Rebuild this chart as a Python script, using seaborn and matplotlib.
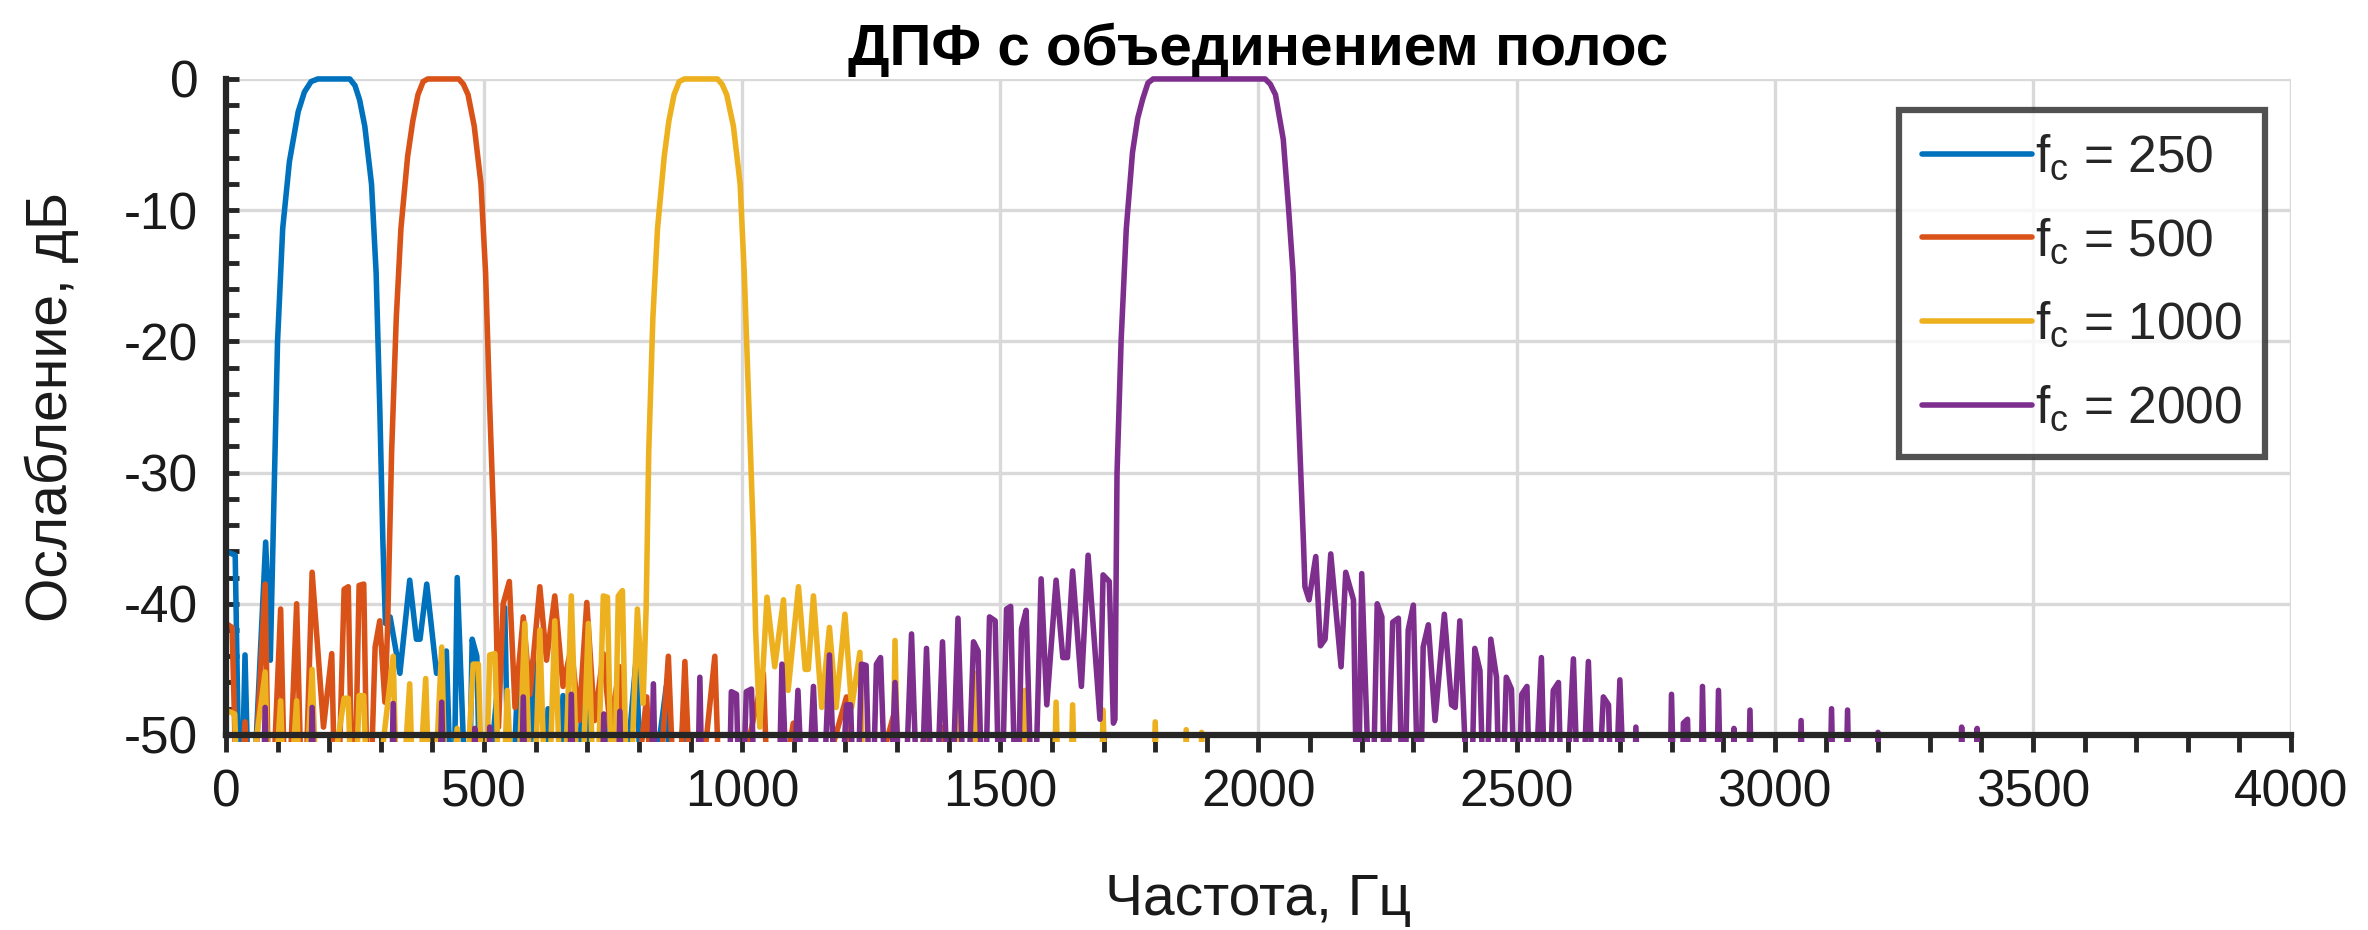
import numpy as np
import pandas as pd
import matplotlib
matplotlib.use("Agg")
import matplotlib.pyplot as plt
from matplotlib.patches import Rectangle
import seaborn as sns

# Точки (частота, Гц; ослабление, дБ). -60 = ниже оси (обрезается)
pts_250 = [(0, -36.0), (18, -36.3), (28, -60), (37, -43.9), (47, -60), (77, -35.3), (86, -44.3),
           (100, -20), (110, -11.4), (123, -6.3), (140, -2.5), (152, -1.0), (165, -0.2), (178, 0),
           (240, 0), (250, -0.5), (259, -1.6), (269, -3.6), (282, -8), (291, -14.8), (298, -25),
           (304, -35.2), (309, -41.5), (318, -41), (337, -45.3), (356, -38.2), (369, -42.7),
           (376, -42.7), (389, -38.5), (408, -45.3), (427, -43.6), (440, -60), (448, -38), (469, -60),
           (477, -42.7), (486, -44), (495, -60), (540, -40.3), (550, -60), (565, -46), (580, -60),
           (595, -44.3), (610, -60), (624, -48), (638, -60), (653, -47), (668, -60), (700, -42.8),
           (712, -60), (745, -48), (760, -60), (795, -44), (808, -60), (853, -46.3), (866, -60),
           (889, -47), (900, -60), (4000, -60)]

pts_500 = [(0, -41.5), (12, -41.8), (24, -60), (37, -49), (47, -60), (76, -38.5), (85, -60),
           (106, -40.4), (117, -60), (137, -40), (150, -60), (167, -37.6), (189, -49.4), (205, -43.8),
           (214, -60), (229, -38.9), (237, -38.7), (247, -60), (258, -38.6), (267, -38.5), (276, -60),
           (289, -43.3), (298, -41.3), (308, -47.5), (313, -42), (321, -28.4), (330, -18.2),
           (339, -11.4), (352, -5.9), (362, -3.2), (372, -1.2), (382, -0.2), (391, 0), (451, 0),
           (460, -0.4), (469, -1.2), (481, -3.6), (494, -8), (503, -14.8), (511, -25), (520, -35.2),
           (524, -42), (528, -49.4), (537, -40), (549, -38.3), (560, -47.9), (576, -41), (589, -46.9),
           (608, -38.7), (621, -44.3), (637, -39.4), (653, -46.3), (669, -43.3), (684, -48.9),
           (699, -39.9), (714, -48.9), (731, -43.8), (744, -49.4), (763, -44.8), (779, -60),
           (815, -47.1), (830, -60), (857, -44), (873, -60), (889, -44.4), (905, -60), (947, -44),
           (960, -60), (1041, -45.3), (1054, -60), (1099, -49.1), (1110, -60), (1202, -47.1),
           (1214, -60), (1296, -48.1), (1308, -60), (1357, -49), (1368, -60), (1390, -49.4),
           (1400, -60), (4000, -60)]

pts_1000 = [(0, -48.1), (17, -48.4), (27, -60), (76, -45.2), (86, -60), (106, -47.4), (116, -60),
            (137, -47.4), (147, -60), (167, -45), (180, -60), (229, -47.2), (237, -47.2), (247, -60),
            (258, -47), (267, -47), (277, -60), (324, -44), (334, -60), (356, -46.1), (366, -60),
            (387, -45.7), (398, -60), (418, -43.3), (428, -60), (448, -49.5), (458, -60),
            (479, -44.6), (489, -44.6), (500, -60), (511, -43.9), (521, -43.8), (533, -60),
            (545, -46.6), (560, -60), (579, -41.5), (594, -60), (608, -42), (622, -60), (637, -41.3),
            (652, -60), (669, -39.4), (685, -60), (702, -41.5), (716, -60), (731, -39.4),
            (739, -39.5), (750, -60), (760, -39.4), (768, -39), (779, -60), (797, -40.4),
            (808, -47.6), (814, -40.3), (819, -28.4), (827, -18.2), (836, -11.4), (849, -5.9),
            (858, -3.2), (868, -1.2), (878, -0.2), (888, 0), (952, 0), (961, -0.4), (970, -1.2),
            (983, -3.6), (996, -8), (1004, -14.8), (1013, -25), (1022, -35.2), (1026, -42),
            (1034, -49.4), (1048, -39.5), (1063, -44.8), (1080, -39.7), (1089, -46.6), (1109, -38.7),
            (1122, -45), (1128, -45), (1138, -39.4), (1154, -47.9), (1169, -41.8), (1182, -47.9),
            (1199, -40.8), (1212, -47.9), (1228, -43.7), (1238, -60), (1290, -60), (1296, -42.8),
            (1305, -60), (1416, -60), (1422, -48.1), (1432, -60), (1447, -60), (1454, -45.3),
            (1462, -60), (1541, -60), (1548, -46.6), (1556, -60), (1601, -60), (1608, -47.5),
            (1616, -60), (1633, -60), (1640, -47.7), (1648, -60), (1693, -60), (1699, -48.1),
            (1707, -60), (1794, -60), (1800, -49), (1806, -60), (1855, -60), (1860, -49.6),
            (1866, -60), (1885, -60), (1890, -49.8), (1896, -60), (4000, -60)]

pts_2000 = [(0, -60), (70, -60), (76, -47.9), (82, -60), (160, -60), (167, -47.9), (174, -60),
            (318, -60), (324, -47.6), (330, -60), (411, -60), (418, -47.5), (425, -60), (477, -60),
            (482, -49.5), (487, -60), (506, -60), (511, -49.4), (516, -60), (570, -60), (576, -47.1),
            (582, -60), (663, -60), (669, -46.9), (676, -60), (726, -60), (732, -48.4), (738, -60),
            (757, -60), (763, -48.2), (769, -60), (821, -60), (828, -46.1), (835, -60), (911, -60),
            (918, -45.6), (925, -60), (972, -60), (979, -46.7), (989, -46.9), (997, -60),
            (1008, -46.7), (1018, -46.5), (1027, -60), (1068, -60), (1077, -44.6), (1092, -60),
            (1108, -46.6), (1122, -60), (1138, -46.3), (1152, -60), (1169, -43.9), (1185, -60),
            (1202, -47.7), (1210, -47.7), (1220, -60), (1231, -44.6), (1240, -44.7), (1250, -60),
            (1260, -44.6), (1268, -44.1), (1282, -60), (1296, -46), (1311, -60), (1328, -42.3),
            (1343, -60), (1357, -43.4), (1372, -60), (1388, -42.9), (1403, -60), (1418, -41.1),
            (1433, -60), (1448, -42.9), (1457, -43.6), (1468, -60), (1479, -41), (1490, -41.3),
            (1500, -60), (1512, -40.4), (1520, -40.2), (1532, -60), (1541, -41.9), (1550, -40.5),
            (1564, -60), (1579, -38.1), (1590, -47.7), (1608, -38.2), (1621, -44.1), (1630, -44.1),
            (1640, -37.5), (1657, -46.3), (1670, -36.3), (1693, -48.8), (1699, -37.8), (1711, -38.3),
            (1719, -49.1), (1722, -48.8), (1726, -30.1), (1734, -19.9), (1744, -11.4), (1756, -5.6),
            (1766, -3.0), (1776, -1.5), (1786, -0.3), (1796, 0), (2013, 0), (2023, -0.4),
            (2033, -1.2), (2048, -4.6), (2058, -9.7), (2067, -14.8), (2077, -25), (2087, -35.2),
            (2090, -38.7), (2098, -39.7), (2111, -36.4), (2120, -43.2), (2129, -42.7), (2140, -36.2),
            (2160, -44.8), (2169, -37.6), (2184, -39.7), (2192, -60), (2200, -37.7), (2219, -60),
            (2230, -40), (2239, -41), (2245, -60), (2260, -41.4), (2271, -41.1), (2281, -60),
            (2290, -42), (2300, -40.1), (2312, -60), (2319, -43.3), (2329, -41.6), (2342, -48.9),
            (2360, -40.8), (2374, -47.7), (2381, -47.9), (2390, -41.3), (2410, -60), (2419, -43.4),
            (2429, -45.1), (2439, -60), (2450, -42.7), (2461, -45.6), (2469, -60), (2480, -45.6),
            (2490, -46.5), (2500, -60), (2510, -46.9), (2520, -46.3), (2529, -60), (2548, -44.1),
            (2558, -60), (2571, -46.6), (2581, -46), (2590, -60), (2610, -44.2), (2623, -60),
            (2639, -44.4), (2652, -60), (2668, -47.1), (2678, -47.7), (2687, -60), (2700, -45.8),
            (2713, -60), (2726, -60), (2731, -49.4), (2740, -60), (2795, -60), (2800, -46.9),
            (2808, -60), (2818, -60), (2823, -49.1), (2831, -48.8), (2838, -60), (2855, -60),
            (2860, -46.3), (2867, -60), (2885, -60), (2891, -46.6), (2898, -60), (2916, -60),
            (2921, -49.5), (2926, -60), (2946, -60), (2952, -48.1), (2958, -60), (3045, -60),
            (3051, -48.9), (3057, -60), (3104, -60), (3110, -48), (3116, -60), (3135, -60),
            (3141, -48.1), (3147, -60), (3196, -60), (3200, -49.8), (3205, -60), (3357, -60),
            (3362, -49.4), (3367, -60), (3387, -60), (3392, -49.5), (3397, -60), (4000, -60)]

labels = [r"$\mathregular{f_c}$ = 250", r"$\mathregular{f_c}$ = 500",
          r"$\mathregular{f_c}$ = 1000", r"$\mathregular{f_c}$ = 2000"]
colors = ["#0072BD", "#D95319", "#EDB120", "#7E2F8E"]
series = [pts_250, pts_500, pts_1000, pts_2000]

x_ticks = np.arange(0, 4001, 500)
y_ticks = np.arange(-50, 1, 10)

frames = []
for lab, pts in zip(labels, series):
    f, d = zip(*pts)
    frames.append(pd.DataFrame({"freq": f, "db": d, "fc": lab}))
df = pd.concat(frames, ignore_index=True)

sns.set_style("white")
plt.rcParams["font.family"] = ["Liberation Sans", "DejaVu Sans"]
plt.rcParams["mathtext.fontset"] = "custom"
plt.rcParams["mathtext.rm"] = "Liberation Sans"
plt.rcParams["axes.unicode_minus"] = False

fig = plt.figure(figsize=(23.68, 9.30), dpi=100)
ax = fig.add_axes([0.0954, 0.2097, 0.8721, 0.7054])

sns.lineplot(data=df, x="freq", y="db", hue="fc", hue_order=labels, palette=colors,
             sort=False, estimator=None, ax=ax)

# линия на 0 дБ не должна обрезаться наполовину
clip = Rectangle((0, -0.01), 1, 1.03, transform=ax.transAxes, fill=False, visible=False)
ax.add_patch(clip)
for line in ax.lines:
    line.set_linewidth(4.0)
    line.set_solid_joinstyle("round")
    line.set_clip_path(clip)

ax.set_xlim(0, 4000)
ax.set_ylim(-50, 0)
ax.set_xticks(x_ticks)
ax.set_yticks(y_ticks)
ax.set_xticks(np.arange(0, 4001, 100), minor=True)
ax.set_yticks(np.arange(-50, 1, 2), minor=True)
ax.grid(True, which="major", color="#d9d9d9", linewidth=2.4)
ax.set_axisbelow(True)

for side in ["top", "right"]:
    ax.spines[side].set_visible(False)
for side in ["left", "bottom"]:
    ax.spines[side].set_color("#262626")
    ax.spines[side].set_linewidth(4.5)

ax.tick_params(axis="y", which="both", direction="in", length=9, width=3.5, left=True,
               color="#262626", labelcolor="#1a1a1a", labelsize=37, pad=20)
ax.tick_params(axis="x", which="both", direction="out", length=12, width=3.5, bottom=True,
               color="#262626", labelcolor="#1a1a1a", labelsize=37, pad=12)

ax.set_xlabel("Частота, Гц", fontsize=41, labelpad=40, color="#1a1a1a")
ax.set_ylabel("Ослабление, дБ", fontsize=41, labelpad=32, color="#1a1a1a")
ax.set_title("ДПФ с объединением полос", fontsize=42, fontweight="bold", pad=10, color="black")

handles, labs = ax.get_legend_handles_labels()
leg = ax.legend(handles, labs, loc="upper right", bbox_to_anchor=(0.9874, 0.9527),
                fontsize=37, frameon=True, fancybox=False, handlelength=2.15,
                handletextpad=0.05, labelspacing=0.66, borderpad=0.45, borderaxespad=0)
leg.get_frame().set_edgecolor("#262626")
leg.get_frame().set_linewidth(4.5)
for line in leg.get_lines():
    line.set_linewidth(4.0)

fig.savefig("out.png", dpi=100)
